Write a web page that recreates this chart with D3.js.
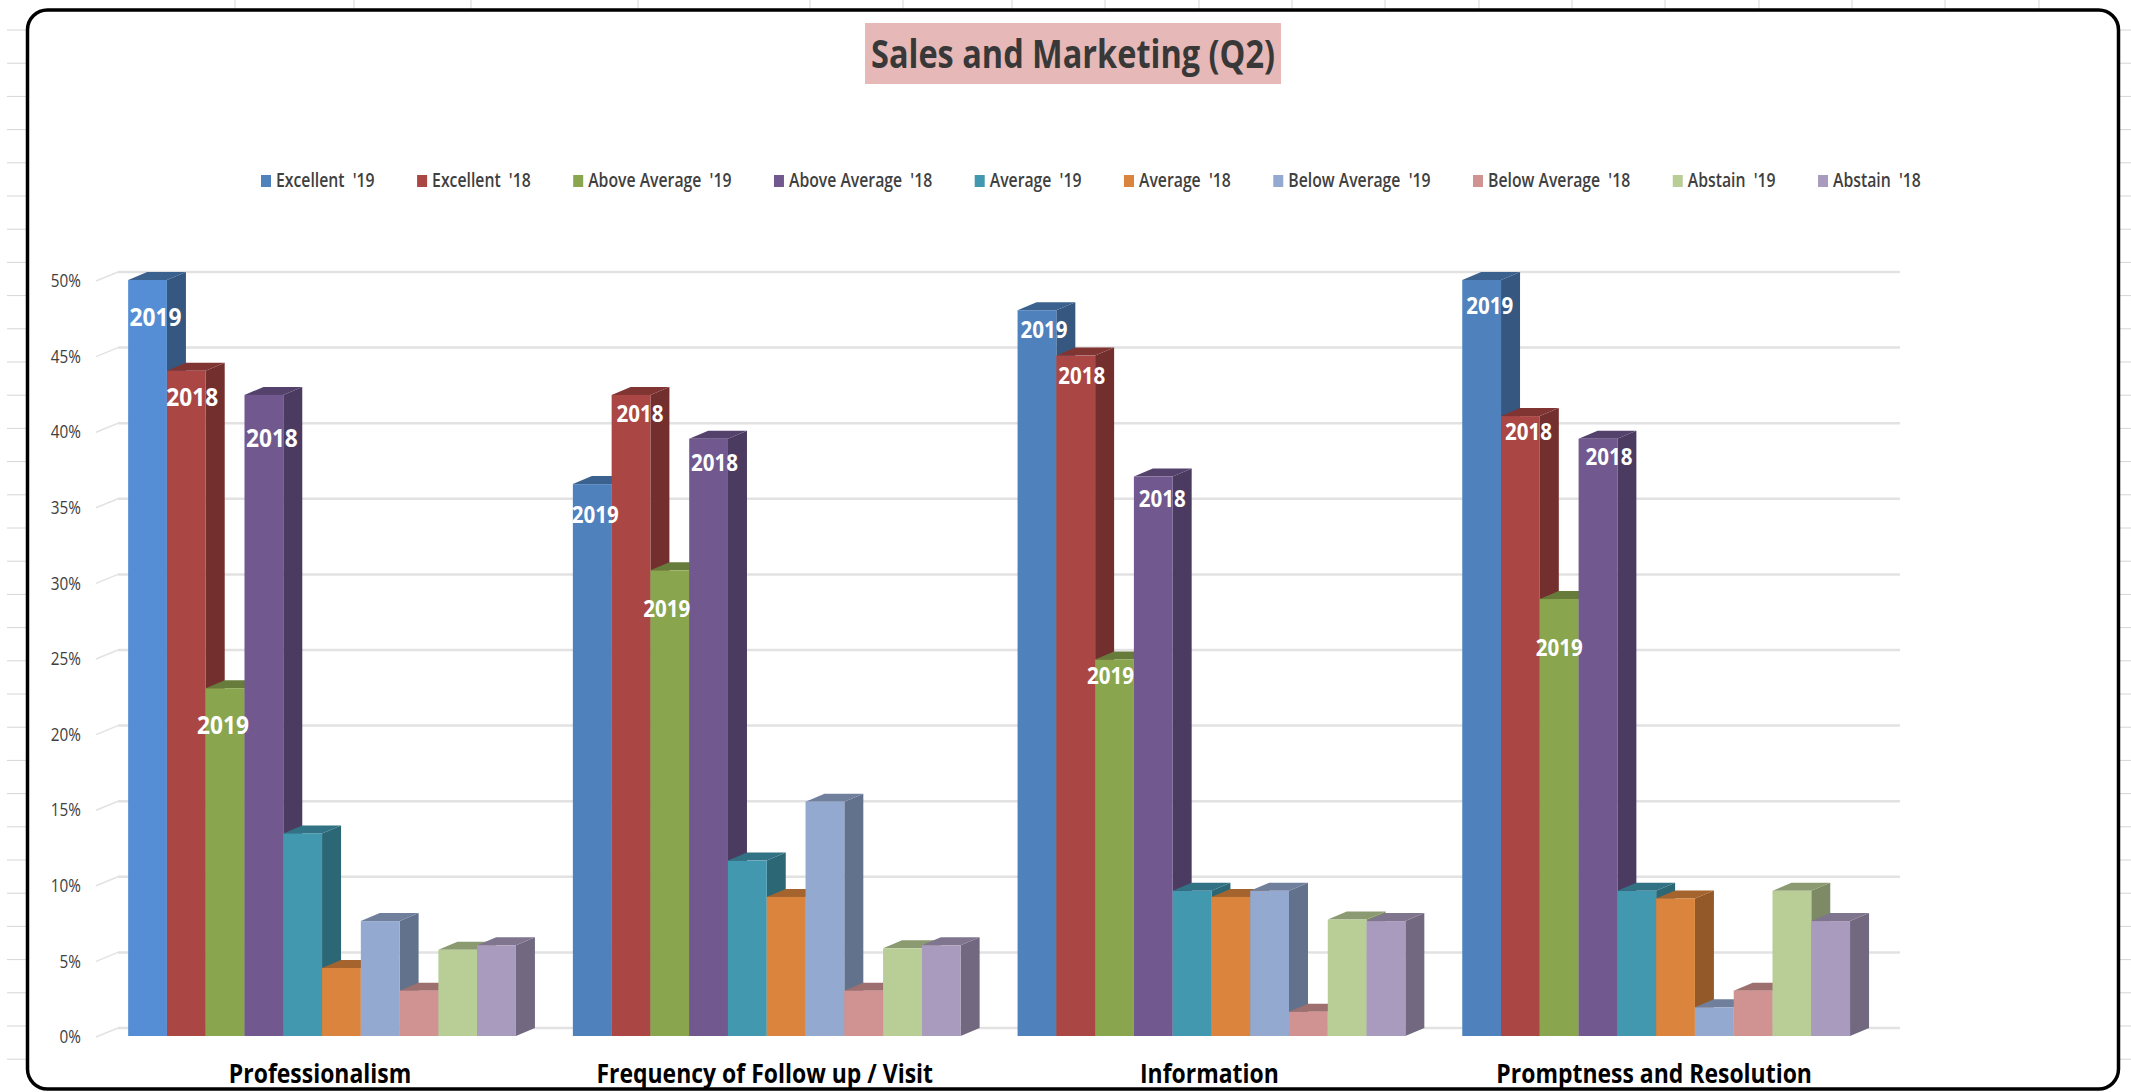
<!DOCTYPE html>
<html>
  <head>
    <meta charset="utf-8">
    <title>Sales and Marketing (Q2)</title>
    <script src="https://cdn.jsdelivr.net/npm/d3@7"></script>
    <style>
      html, body { margin: 0; background: #fff; }
      svg { display: block; }
      text { font-family: "Open Sans", sans-serif; }
    </style>
  </head>
  <body>
    <svg id="chart" width="2131" height="1092"></svg>

    <script>
      // data
      const categories = ["Professionalism", "Frequency of Follow up / Visit", "Information", "Promptness and Resolution"];
      const seriesNames = ["Excellent  '19", "Excellent  '18", "Above Average  '19", "Above Average  '18", "Average  '19", "Average  '18", "Below Average  '19", "Below Average  '18", "Abstain  '19", "Abstain  '18"];
      const seriesColours = ["#4f81bd", "#aa4644", "#89a54e", "#71588f", "#4198af", "#db843d", "#93a9cf", "#d19392", "#b9cd96", "#a99bbd"];
      const professionalism = [50, 44, 23, 42.4, 13.4, 4.5, 7.6, 3, 5.7, 6];
      const followUp = [36.5, 42.4, 30.8, 39.5, 11.6, 9.2, 15.5, 3, 5.8, 6];
      const information = [48, 45, 24.9, 37, 9.6, 9.2, 9.6, 1.6, 7.7, 7.6];
      const promptness = [50, 41, 28.9, 39.5, 9.6, 9.1, 1.9, 3, 9.6, 7.6];
      const values = [professionalism, followUp, information, promptness];
      const percentTicks = [0, 5, 10, 15, 20, 25, 30, 35, 40, 45, 50];
      const labelYears = ["2019", "2018", "2019", "2018"];

      // hand placed label nudges from the top front corner of each bar
      const labelDrop = [[37, 26, 37, 43], [31, 19, 39, 24], [20, 20, 16, 22], [26, 16, 49, 18]];
      const labelShift = [[8, 6, -2, 8], [3, 9, -3, 6], [7, 6, -4, 9], [8, 8, 0, 11]];

      // spreadsheet cell lines showing around the chart frame
      const sheetColumns = [235, 354, 471, 638, 810, 903, 1012, 1105, 1199, 1292, 1385, 1479, 1572, 1665, 1759, 1852, 1945, 2039];

      const svg = d3.select("#chart");
      const depthX = 19, depthY = 8;

      const y = d3.scaleLinear().domain([0, 50]).range([1036, 280]);
      const x = d3.scaleBand()
        .domain(categories)
        .range([99.7, 1878.5])
        .paddingInner(0.128)
        .paddingOuter(0.064);
      const xBar = d3.scaleBand()
        .domain(seriesNames)
        .range([0, x.bandwidth()]);
      const colour = d3.scaleOrdinal().domain(seriesNames).range(seriesColours);

      // sheet behind
      const sheet = svg.append("g").attr("stroke", "#d6d6d6").attr("stroke-width", 1);
      sheet.selectAll(".col").data(sheetColumns).enter().append("line")
        .attr("x1", d => d).attr("x2", d => d).attr("y1", 0).attr("y2", 10);
      sheet.selectAll(".row").data(d3.range(30, 1092, 33.2)).enter().append("line")
        .attr("x1", 7).attr("x2", 2131).attr("y1", d => d).attr("y2", d => d);

      // frame
      svg.append("rect")
        .attr("x", 27.5).attr("y", 10)
        .attr("width", 2091).attr("height", 1079)
        .attr("rx", 20).attr("ry", 20)
        .attr("fill", "#fff").attr("stroke", "#000").attr("stroke-width", 3.5);

      // title
      svg.append("rect")
        .attr("x", 865).attr("y", 23).attr("width", 416).attr("height", 61)
        .attr("fill", "#e6b8b7");
      svg.append("text")
        .attr("x", 1073).attr("y", 68)
        .attr("text-anchor", "middle")
        .attr("font-size", 40).attr("font-weight", 700).attr("fill", "#383838")
        .attr("textLength", 404).attr("lengthAdjust", "spacingAndGlyphs")
        .text("Sales and Marketing (Q2)");

      // legend
      let legendX = 261;
      seriesNames.forEach(function(name) {
        svg.append("rect")
          .attr("x", legendX).attr("y", 175).attr("width", 10).attr("height", 12)
          .attr("fill", colour(name));
        const label = svg.append("text")
          .attr("x", legendX + 15).attr("y", 187)
          .attr("font-size", 19).attr("font-weight", 600).attr("fill", "#404040")
          .style("white-space", "pre")
          .text(name);
        const width = label.node().getComputedTextLength() * 0.83;
        label.attr("textLength", width).attr("lengthAdjust", "spacingAndGlyphs");
        legendX += 15 + width + 42.5;
      });

      // gridlines, back wall and the short bits on the side wall
      const grid = svg.append("g").attr("stroke", "#e2e2e2").attr("fill", "none");
      grid.selectAll(".back").data(percentTicks).enter().append("line")
        .attr("x1", 118).attr("x2", 1900)
        .attr("y1", d => y(d) - depthY).attr("y2", d => y(d) - depthY)
        .attr("stroke-width", 2.5);
      grid.selectAll(".side").data(percentTicks).enter().append("line")
        .attr("x1", 96).attr("x2", 118)
        .attr("y1", d => y(d) + 1).attr("y2", d => y(d) - depthY)
        .attr("stroke-width", 1.5);

      // axes
      const yAxis = svg.append("g")
        .attr("transform", "translate(88,1)")
        .call(d3.axisLeft(y).tickValues(percentTicks).tickFormat(d => d + "%").tickSize(0).tickPadding(7));
      yAxis.select(".domain").remove();
      yAxis.selectAll("text")
        .attr("font-size", 18).attr("fill", "#404040")
        .style("font-family", '"Open Sans", sans-serif')
        .each(function() {
          const t = d3.select(this);
          t.attr("textLength", this.getComputedTextLength() * 0.85).attr("lengthAdjust", "spacingAndGlyphs");
        });

      const xAxis = svg.append("g")
        .attr("transform", "translate(-2,1064)")
        .call(d3.axisBottom(x).tickSize(0).tickPadding(0));
      xAxis.select(".domain").remove();
      xAxis.selectAll("text")
        .attr("font-size", 27).attr("font-weight", 700).attr("fill", "#000")
        .style("font-family", '"Open Sans", sans-serif')
        .each(function() {
          const t = d3.select(this);
          t.attr("textLength", this.getComputedTextLength() * 0.85).attr("lengthAdjust", "spacingAndGlyphs");
        });

      // bars, left to right so each one overlaps the side of the last
      categories.forEach(function(category, c) {
        const group = svg.append("g").attr("transform", "translate(" + x(category) + ",0)");
        const bars = group.selectAll(".bar")
          .data(seriesNames.map((name, s) => ({ name: name, value: values[c][s] })))
          .enter().append("g").attr("class", "bar");

        bars.append("path")
          .attr("fill", d => d3.rgb(colour(d.name)).darker(1.1))
          .attr("d", function(d) {
            const right = xBar(d.name) + xBar.bandwidth();
            return "M" + right + "," + y(d.value)
              + "L" + (right + depthX) + "," + (y(d.value) - depthY)
              + "L" + (right + depthX) + "," + (y(0) - depthY)
              + "L" + right + "," + y(0) + "Z";
          });
        bars.append("path")
          .attr("fill", d => d3.rgb(colour(d.name)).darker(0.8))
          .attr("d", function(d) {
            const left = xBar(d.name), right = left + xBar.bandwidth();
            return "M" + left + "," + y(d.value)
              + "L" + (left + depthX) + "," + (y(d.value) - depthY)
              + "L" + (right + depthX) + "," + (y(d.value) - depthY)
              + "L" + right + "," + y(d.value) + "Z";
          });
        bars.append("rect")
          .attr("x", d => xBar(d.name))
          .attr("y", d => y(d.value))
          .attr("width", xBar.bandwidth())
          .attr("height", d => y(0) - y(d.value))
          // the first blue bar is a brighter blue in the original
          .attr("fill", (d, s) => c === 0 && s === 0 ? "#558ed5" : colour(d.name));

        // year labels on the first four bars
        group.selectAll(".year")
          .data(labelYears)
          .enter().append("text")
          .attr("class", "year")
          .attr("text-anchor", "middle")
          .attr("x", (d, s) => xBar(seriesNames[s]) + xBar.bandwidth() / 2 + labelShift[c][s])
          .attr("y", (d, s) => y(values[c][s]) + labelDrop[c][s])
          .attr("dy", "0.36em")
          .attr("fill", "#fff")
          .attr("font-weight", 700)
          .attr("font-size", c === 0 ? 25 : 22.5)
          .attr("textLength", c === 0 ? 52 : 47)
          .attr("lengthAdjust", "spacingAndGlyphs")
          .text(d => d);
      });
    </script>
  </body>
</html>
